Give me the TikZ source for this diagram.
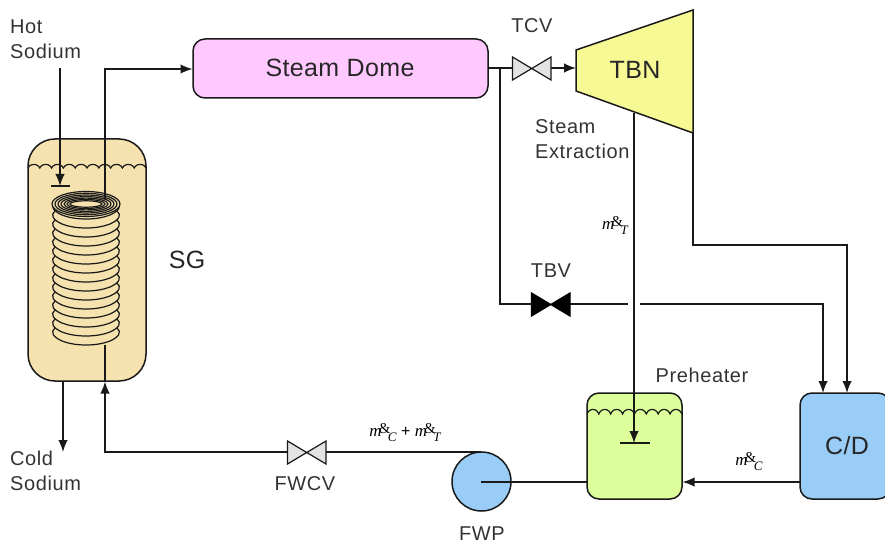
\documentclass[tikz,border=0pt]{standalone}
\usepackage{fontspec}
\setmainfont{Liberation Sans}
\usetikzlibrary{arrows.meta}
\newfontfamily\mdotfont{Liberation Serif}
\newfontfamily\lblfont[LetterSpace=3]{Liberation Sans}
\newfontfamily\bigfont[LetterSpace=1.5]{Liberation Sans}
\definecolor{sgfill}{HTML}{F6E2AE}
\definecolor{dome}{HTML}{FFC8FF}
\definecolor{preh}{HTML}{DCFF9C}
\definecolor{cond}{HTML}{99CDF7}
\definecolor{tbn}{HTML}{F7FA94}
\newcommand{\mdot}[1]{{\mdotfont\fontsize{17}{19}\selectfont\itshape m\kern-3pt\raisebox{3pt}{\fontsize{15}{17}\selectfont\upshape\&}\kern-2.5pt\raisebox{-5pt}{\fontsize{13}{15}\selectfont #1}}}
\tikzset{
  x=1pt,y=-1pt,
  pipe/.style={line width=1.5pt,black!90},
  flow/.style={pipe,-{Latex[length=12pt,width=9.5pt]}},
  vessel/.style={draw=black!90,line width=1.5pt,rounded corners=12pt,inner sep=0pt},
  lbl/.style={font=\lblfont\fontsize{20}{25}\selectfont,text=black!80,inner sep=0pt,align=left},
  big/.style={font=\bigfont\fontsize{25}{27}\selectfont,text=black!85,inner sep=0pt},
  mlbl/.style={font=\fontsize{17}{19}\selectfont,inner sep=0pt},
  water/.style={line width=1.2pt,black!90},
  valvegray/.style={draw=black!90,line width=1.2pt,fill=black!11,line join=miter},
  valveblack/.style={draw=black,line width=1.2pt,fill=black}
}
\begin{document}
\begin{tikzpicture}
\useasboundingbox (0,0) rectangle (885,545);
% vessels
\node[vessel,rounded corners=27pt,fill=sgfill,minimum width=118pt,minimum height=242pt] (sg) at (87,260) {};
\node[vessel,fill=dome,minimum width=295pt,minimum height=59pt] (dome) at (340.5,68.5) {};
\node[big] (domel) at (340,68) {Steam Dome};
\node[vessel,fill=preh,minimum width=95pt,minimum height=106pt] (pre) at (634.5,446) {};
\node[vessel,fill=cond,minimum width=90pt,minimum height=106pt] (cd) at (845,446) {};
\node[big] (cdl) at (847,446) {C/D};
\node[circle,draw=black!90,line width=1.5pt,fill=cond,minimum size=59pt,inner sep=0pt] (fwp) at (481.5,481.5) {};
\filldraw[draw=black!90,line width=1.5pt,fill=tbn,line join=miter] (576,50) -- (693,10) -- (693,133) -- (576,91) -- cycle;
\node[big] (tbnl) at (635,70) {TBN};
% water levels
\draw[water] (28,168) foreach \i in {1,...,10}{ arc[start angle=200,end angle=340,x radius=6.28,y radius=5.5] };
\draw[water] (587,414) foreach \i in {1,...,8}{ arc[start angle=200,end angle=340,x radius=6.31,y radius=7] };
% coil
\foreach \c in {336,327,...,210}{
  \draw[line width=1.2pt,black!90] (55,\c-8) .. controls (50,\c-4) and (53,\c+1) .. (62,\c+5) .. controls (70,\c+8) and (78,\c+9) .. (86,\c+9) .. controls (94,\c+9) and (102,\c+8) .. (110,\c+5) .. controls (119,\c+1) and (122,\c-4) .. (117,\c-8);
}
\fill[sgfill] (86,204) ellipse[x radius=34,y radius=12.5];
\foreach \rx/\ry in {34/12.5,31/10.7,28/9,25/7.4,22/5.9,19/4.5,16/3.2}
  \draw[line width=1.2pt,black!90] (86,204) ellipse[x radius=\rx,y radius=\ry];
% connection points
\coordinate (hot0) at (60,68);
\coordinate (hotend) at (60,186);
\coordinate (hotbarL) at (51,186);
\coordinate (hotbarR) at (70,186);
\coordinate (coiltop) at (105,199);
\coordinate (coilbot) at (105,345);
\coordinate (domein) at (192.5,69);
\coordinate (cold0) at (63,381);
\coordinate (cold1) at (63,452);
\coordinate (tcvin) at (512.5,68);
\coordinate (tcvout) at (551,68);
\coordinate (tbnin) at (576,68);
\coordinate (tee) at (500,68);
\coordinate (tbvin) at (531,304);
\coordinate (tbvout) at (570,304);
\coordinate (cross1) at (628,304);
\coordinate (cross2) at (640,304);
\coordinate (cdin1) at (823,393);
\coordinate (cdin2) at (847,393);
\coordinate (tbnout) at (693,133);
\coordinate (ext0) at (634,113);
\coordinate (ext1) at (634,443);
\coordinate (pbarL) at (620,443);
\coordinate (pbarR) at (650,443);
\coordinate (cdout) at (800,482);
\coordinate (prein) at (682.5,482);
\coordinate (preout) at (587,482);
\coordinate (fwpc) at (481,482);
\coordinate (fwptop) at (481,452);
\coordinate (fwcvin) at (326,452);
\coordinate (fwcvout) at (287,452);
\coordinate (sgin) at (105,381.5);
% pipes
\draw[flow] (hot0) -- (hotend);
\draw[pipe] (hotbarL) -- (hotbarR);
\draw[flow] (coiltop) |- (domein);
\draw[flow] (cold0) -- (cold1);
\draw[pipe] (dome.east |- tee) -- (tcvin);
\draw[flow] (tcvout) -- (tbnin);
\draw[pipe] (tee) |- (tbvin);
\draw[pipe] (tbvout) -- (cross1);
\draw[flow] (cross2) -| (cdin1);
\draw[flow] (tbnout) |- (847,245) -- (cdin2);
\draw[flow] (ext0) -- (ext1);
\draw[pipe] (pbarL) -- (pbarR);
\draw[flow] (cdout) -- (prein);
\draw[pipe] (preout) -- (fwpc);
\draw[pipe] (fwptop) -- (fwcvin);
\draw[flow] (fwcvout) -| (sgin);
\draw[pipe] (sgin) -- (coilbot);
% valves
\filldraw[valvegray] (512.5,57) -- (551,80) -- (551,57) -- (512.5,80) -- cycle;
\filldraw[valvegray] (287.5,441) -- (326,464) -- (326,441) -- (287.5,464) -- cycle;
\filldraw[valveblack] (531.5,293) -- (570,316) -- (570,293) -- (531.5,316) -- cycle;
% labels
\node[lbl,anchor=north west] (lhot) at (10,20) {Hot\\Sodium};
\node[lbl,anchor=north west] (lcold) at (10,451) {Cold\\Sodium};
\node[big] (lsg) at (187,260) {SG};
\node[lbl,anchor=center] (ltcv) at (532,26) {TCV};
\node[lbl,anchor=north west] (lext) at (535,119.5) {Steam\\Extraction};
\node[lbl,anchor=center] (ltbv) at (551,271) {TBV};
\node[lbl,anchor=center] (lpre) at (702,375) {Preheater};
\node[lbl,anchor=center] (lfwcv) at (305,484) {FWCV};
\node[lbl,anchor=center] (lfwp) at (482,534) {FWP};
\node[mlbl,anchor=center] (mt) at (615,226) {\mdot{T}};
\node[mlbl,anchor=center] (mc) at (749,462) {\mdot{C}};
\node[mlbl,anchor=center] (mct) at (405,433) {\mdot{C}\fontsize{16}{18}\selectfont\ + \mdot{T}};
\end{tikzpicture}
\end{document}
